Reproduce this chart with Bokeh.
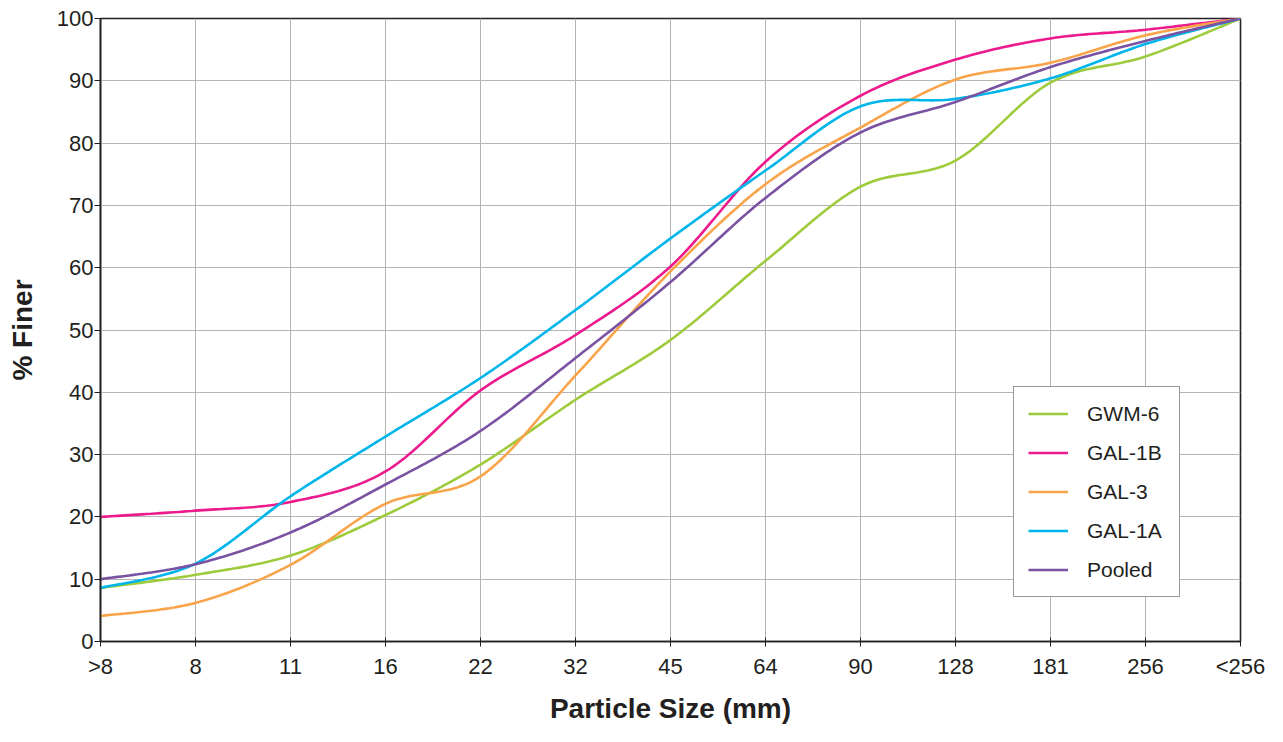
import numpy as np
from bokeh.plotting import figure
from bokeh.models import FixedTicker, Legend, LegendItem, Range1d
from bokeh.embed import file_html
from bokeh.resources import INLINE

# ---- data ----
sizes = [">8", "8", "11", "16", "22", "32", "45", "64", "90", "128", "181", "256", "<256"]
gwm6 = [8.6, 10.7, 13.8, 20.3, 28.4, 38.8, 48.4, 61.1, 73.0, 77.2, 89.7, 93.9, 100]
gal1b = [20.0, 21.0, 22.4, 27.3, 40.3, 49.2, 60.2, 77.0, 87.6, 93.4, 96.8, 98.2, 100]
gal3 = [4.1, 6.2, 12.3, 22.1, 26.5, 42.7, 59.4, 73.4, 82.5, 90.2, 92.9, 97.3, 100]
gal1a = [8.6, 12.5, 23.3, 32.9, 42.3, 53.2, 64.7, 75.6, 85.9, 87.1, 90.4, 95.9, 100]
pooled = [10.0, 12.4, 17.5, 25.2, 33.8, 45.5, 57.7, 71.2, 81.7, 86.6, 92.2, 96.4, 100]
series_names = ["GWM-6", "GAL-1B", "GAL-3", "GAL-1A", "Pooled"]
series_values = [gwm6, gal1b, gal3, gal1a, pooled]
series_colors = ["#9dcb3c", "#ec1a8c", "#f9a44a", "#00b5ea", "#7a52a2"]

FONT = "Liberation Sans"
TXT = "#231f20"


def smooth(xs, ys, n=24):
    """Catmull-Rom (Excel-style) smoothing of a polyline for drawing."""
    P = np.column_stack([xs, ys]).astype(float)
    m = len(P)
    out = []
    for i in range(m - 1):
        p0 = P[max(i - 1, 0)]
        p1 = P[i]
        p2 = P[i + 1]
        p3 = P[min(i + 2, m - 1)]
        c1 = p1 + (p2 - p0) / 6.0
        c2 = p2 - (p3 - p1) / 6.0
        t = np.linspace(0, 1, n, endpoint=(i == m - 2))[:, None]
        b = ((1 - t) ** 3) * p1 + 3 * ((1 - t) ** 2) * t * c1 + 3 * (1 - t) * t ** 2 * c2 + t ** 3 * p2
        out.append(b)
    out = np.vstack(out)
    return out[:, 0], out[:, 1]


p = figure(width=1267, height=726, output_backend="svg", toolbar_location=None,
           x_range=Range1d(0, len(sizes) - 1), y_range=Range1d(0, 100),
           min_border_left=100, min_border_right=27, min_border_top=18, min_border_bottom=80)

xs_idx = list(range(len(sizes)))
renderers = []
for name, vals, col in zip(series_names, series_values, series_colors):
    sx, sy = smooth(xs_idx, vals)
    r = p.line(sx, sy, line_color=col, line_width=2.6)
    renderers.append(r)

# axes
p.xaxis.ticker = FixedTicker(ticks=xs_idx)
p.xaxis.major_label_overrides = {i: s for i, s in enumerate(sizes)}
p.yaxis.ticker = FixedTicker(ticks=list(range(0, 101, 10)))
for ax in (p.xaxis[0], p.yaxis[0]):
    ax.axis_line_color = TXT
    ax.axis_line_width = 1.6
    ax.major_tick_line_color = TXT
    ax.major_tick_line_width = 1
    ax.minor_tick_line_color = None
    ax.major_label_text_font = FONT
    ax.major_label_text_font_size = "22px"
    ax.major_label_text_color = TXT
    ax.axis_label_text_font = FONT
    ax.axis_label_text_font_size = "28px"
    ax.axis_label_text_font_style = "bold"
    ax.axis_label_text_color = TXT

p.xaxis.axis_label = "Particle Size (mm)"
p.yaxis.axis_label = "% Finer"
p.xaxis.major_tick_in = 4
p.xaxis.major_tick_out = 5
p.xaxis.major_label_standoff = 7
p.xaxis.axis_label_standoff = 11
p.yaxis.major_tick_in = 0
p.yaxis.major_tick_out = 6
p.yaxis.major_label_standoff = 1
p.yaxis.axis_label_standoff = 16

p.xgrid.ticker = FixedTicker(ticks=xs_idx)
p.ygrid.ticker = FixedTicker(ticks=list(range(0, 101, 10)))
p.grid.grid_line_color = "#b4b4b4"
p.grid.grid_line_width = 1

p.outline_line_color = TXT
p.outline_line_width = 1.6
p.background_fill_color = "white"
p.border_fill_color = "white"

legend = Legend(items=[LegendItem(label=n, renderers=[r]) for n, r in zip(series_names, renderers)],
                location=(913, 44), orientation="vertical")
legend.label_text_font = FONT
legend.label_text_font_size = "21px"
legend.label_text_color = TXT
legend.glyph_width = 40
legend.glyph_height = 25
legend.label_height = 25
legend.label_width = 78
legend.label_standoff = 19
legend.spacing = 14
legend.padding = 14
legend.margin = 0
legend.border_line_color = "#333333"
legend.border_line_width = 1
legend.background_fill_color = "white"
legend.background_fill_alpha = 1
p.add_layout(legend)

open("out.html", "w").write(file_html(p, INLINE))
